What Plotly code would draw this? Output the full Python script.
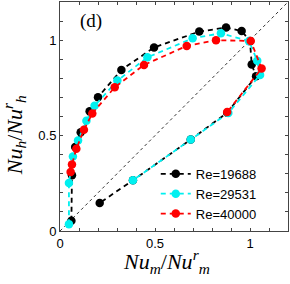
import plotly.graph_objects as go

# Re=19688 (black)
x_black = [0.060, 0.063, 0.080, 0.109, 0.156, 0.200, 0.323, 0.495, 0.733, 0.874, 0.956, 1.000, 1.009, 1.032, 0.880, 0.688, 0.384, 0.209]
y_black = [0.054, 0.292, 0.440, 0.517, 0.627, 0.701, 0.844, 0.962, 1.045, 1.066, 1.048, 0.995, 0.872, 0.811, 0.620, 0.479, 0.266, 0.147]
# Re=29531 (cyan)
x_cyan = [0.047, 0.047, 0.068, 0.095, 0.139, 0.182, 0.302, 0.460, 0.698, 0.847, 0.995, 1.038, 1.053, 0.886, 0.688, 0.384]
y_cyan = [0.036, 0.252, 0.390, 0.474, 0.578, 0.656, 0.788, 0.910, 1.010, 1.036, 0.995, 0.892, 0.818, 0.618, 0.479, 0.266]
# Re=40000 (red)
x_red = [0.056, 0.063, 0.086, 0.126, 0.170, 0.288, 0.442, 0.667, 0.821, 1.004, 1.061, 0.880]
y_red = [0.309, 0.349, 0.431, 0.530, 0.616, 0.753, 0.870, 0.970, 1.000, 0.996, 0.852, 0.623]

series_names = ["Re=19688", "Re=29531", "Re=40000"]
series_colors = ["#000000", "#00f0f0", "#ff0000"]

tick_vals = [i / 10 for i in range(13)]
tick_text = ["0", "", "", "", "", "0.5", "", "", "", "", "1", "", ""]

fig = go.Figure()
for xs, ys, name, col in zip([x_black, x_cyan, x_red], [y_black, y_cyan, y_red], series_names, series_colors):
    fig.add_trace(go.Scatter(
        x=xs, y=ys, mode="lines+markers", name=name,
        line=dict(color=col, width=1.8, dash="5px,4px"),
        marker=dict(color=col, size=8.5, symbol="circle"),
    ))

fig.add_shape(type="line", x0=0, y0=0, x1=1.2, y1=1.2, xref="x", yref="y",
              line=dict(color="#333333", width=1, dash="dot"), layer="below")

axis_common = dict(
    range=[0, 1.2], tickvals=tick_vals, ticktext=tick_text,
    ticks="inside", ticklen=3, tickcolor="#444", tickwidth=1,
    showline=True, linecolor="#444", linewidth=1, mirror="allticks",
    showgrid=False, zeroline=False, automargin=False,
    tickfont=dict(family="Liberation Sans, Arial, sans-serif", size=13, color="#000"),
)
fig.update_xaxes(**axis_common)
fig.update_yaxes(**axis_common)

fig.update_layout(
    template="none",
    width=290, height=284,
    margin=dict(l=60, r=2, t=2, b=53, autoexpand=False),
    paper_bgcolor="white", plot_bgcolor="white",
    showlegend=True,
    legend=dict(x=0.42, y=0.315, xanchor="left", yanchor="top",
                bgcolor="rgba(0,0,0,0)", borderwidth=0,
                font=dict(family="Liberation Sans, Arial, sans-serif", size=13, color="#000"),
                itemwidth=30, tracegroupgap=0),
    annotations=[
        dict(text="(d)", x=0.08, y=0.915, xref="paper", yref="paper", xanchor="left", yanchor="middle",
             showarrow=False, font=dict(family="Liberation Serif, serif", size=19, color="#000")),
        dict(text="<i>Nu<sub>m</sub></i>/<i>Nu<sup>r</sup><sub>m</sub></i>",
             x=0.465, y=-0.135, xref="paper", yref="paper", yanchor="middle", showarrow=False,
             font=dict(family="Liberation Serif, serif", size=22, color="#000")),
        dict(text="<i>Nu<sub>h</sub></i>/<i>Nu<sup>r</sup><sub>h</sub></i>",
             x=-0.2, y=0.42, xref="paper", yref="paper", xanchor="center", textangle=-90, showarrow=False,
             font=dict(family="Liberation Serif, serif", size=22, color="#000")),
    ],
)

fig.write_html("out.html", config={"displayModeBar": False},
               post_script="document.body.style.margin='0px';document.body.style.overflow='hidden';")
